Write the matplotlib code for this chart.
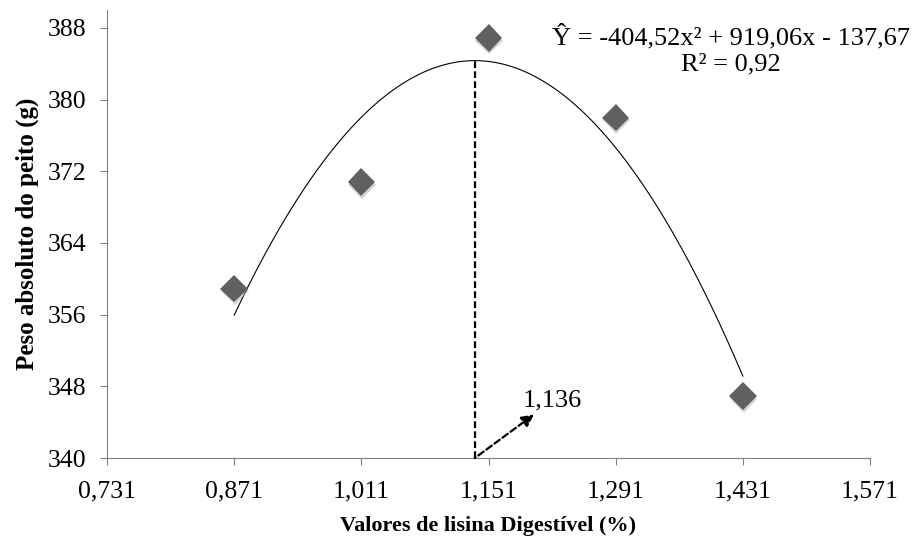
import numpy as np
import matplotlib
matplotlib.use('Agg')
import matplotlib.pyplot as plt
import matplotlib.patheffects as pe

# data
lisina = [0.871, 1.011, 1.151, 1.291, 1.431]
peso = [358.9, 370.8, 386.9, 378.0, 346.9]
coef = [-404.52, 919.06, -137.67]  # trend line shown on the chart
x_otimo = 1.136
x_ticks = [0.731, 0.871, 1.011, 1.151, 1.291, 1.431, 1.571]
y_ticks = [340, 348, 356, 364, 372, 380, 388]

plt.rcParams['font.family'] = ['Liberation Serif', 'DejaVu Serif']

fig = plt.figure(figsize=(9.2, 5.44), dpi=100)
ax = fig.add_axes([0.1163, 0.158, 0.8294, 0.8236])

# trend line
xs = np.linspace(min(lisina), max(lisina), 200)
ax.plot(xs, np.polyval(coef, xs), color='black', lw=0.8)

# points
ax.plot(lisina, peso, 'D', color='#606060', markersize=14, markeredgewidth=0,
        path_effects=[pe.SimplePatchShadow(offset=(0.5, -2), shadow_rgbFace='#aaaaaa', alpha=0.5),
                      pe.Normal()])

# optimum
y_max = np.polyval(coef, x_otimo)
ax.plot([x_otimo, x_otimo], [340, y_max], color='black', lw=1.6, ls=(0, (3, 1.5)))
ax.annotate('1,136', xy=(x_otimo, 340), xytext=(1.189, 346.4), fontsize=19,
            va='center', ha='left',
            arrowprops=dict(arrowstyle='<|-', color='black', lw=1.6, ls=(0, (3, 1.5)),
                            mutation_scale=18, shrinkA=0, shrinkB=0))

ax.text(1.418, 385.6, 'Ŷ = -404,52x² + 919,06x - 137,67\nR² = 0,92',
        ha='center', va='center', fontsize=19, linespacing=1.25)

ax.set_xlim(0.731, 1.571)
ax.set_ylim(340, 390)
ax.set_xticks(x_ticks)
ax.set_xticklabels([('%.3f' % t).replace('.', ',') for t in x_ticks])
ax.set_yticks(y_ticks)
ax.tick_params(labelsize=18.5, length=5, color='#808080', direction='out')
ax.tick_params(axis='x', pad=11)
ax.tick_params(axis='y', pad=10)
for s in ['top', 'right']:
    ax.spines[s].set_visible(False)
for s in ['left', 'bottom']:
    ax.spines[s].set_color('#808080')

ax.set_xlabel('Valores de lisina Digestível (%)', fontsize=16, fontweight='bold', labelpad=10)
ax.set_ylabel('Peso absoluto do peito (g)', fontsize=18, fontweight='bold', labelpad=6)

fig.savefig('out.png', dpi=100)
